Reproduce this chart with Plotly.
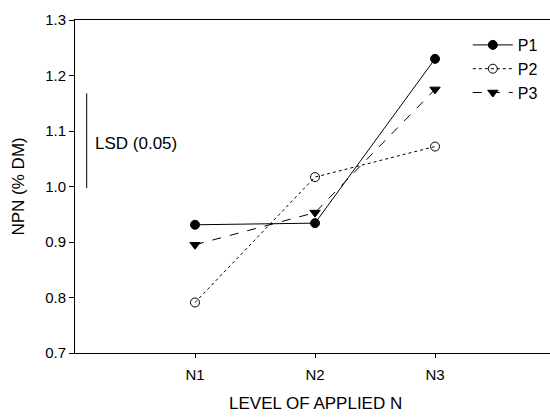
import plotly.graph_objects as go

categories = ["N1", "N2", "N3"]
p1 = [0.931, 0.934, 1.230]
p2 = [0.791, 1.017, 1.072]
p3 = [0.895, 0.953, 1.175]
y_ticks = [0.7, 0.8, 0.9, 1.0, 1.1, 1.2, 1.3]
lsd_low, lsd_high = 0.997, 1.168

xs = list(range(len(categories)))
FONT = "Liberation Sans, Arial, sans-serif"

fig = go.Figure()
series = [
    ("P1", p1, "solid", "circle", "black"),
    ("P2", p2, "dot", "circle-open", "black"),
    ("P3", p3, "dash", "triangle-down", "black"),
]
for name, vals, dash, sym, col in series:
    fig.add_trace(go.Scatter(
        x=xs, y=vals, name=name, mode="lines+markers",
        line=dict(color="black", width=1, dash=dash),
        marker=dict(symbol=sym, size=9, color=col,
                    line=dict(color="black", width=1)),
        legendgroup=name,
    ))

# LSD bar
fig.add_trace(go.Scatter(
    x=[-0.9025, -0.9025], y=[lsd_low, lsd_high], mode="lines",
    line=dict(color="black", width=1), showlegend=False, hoverinfo="skip"))
fig.add_annotation(x=-0.85, y=1.078, text="LSD (0.05)",
                   showarrow=False, xanchor="left", yanchor="middle",
                   font=dict(family=FONT, size=17, color="black"))
fig.add_annotation(x=1, xref="x", y=-0.152, yref="paper", text="LEVEL OF APPLIED N",
                   showarrow=False, xanchor="center", yanchor="middle",
                   font=dict(family=FONT, size=17, color="black"))
fig.add_annotation(x=-0.12, xref="paper", y=0.5, yref="paper", text="NPN (% DM)",
                   textangle=-90, showarrow=False, xanchor="center", yanchor="middle",
                   font=dict(family=FONT, size=17, color="black"))

fig.update_layout(
    width=550, height=418,
    margin=dict(l=75, r=0, t=20, b=65),
    paper_bgcolor="white", plot_bgcolor="white",
    font=dict(family=FONT, size=15, color="black"),
    legend=dict(x=0.827, y=0.976, xanchor="left", yanchor="top",
                bgcolor="rgba(0,0,0,0)", tracegroupgap=0,
                font=dict(family=FONT, size=16), itemwidth=40),
    showlegend=True,
)
fig.update_xaxes(
    range=[-1, 2.958], tickvals=xs, ticktext=categories,
    showgrid=False, zeroline=False, showline=True, linecolor="black", linewidth=1,
    mirror=True, ticks="outside", ticklen=4, tickcolor="black",
    tickfont=dict(family=FONT, size=15), ticklabelstandoff=4,
)
fig.update_yaxes(
    range=[0.7, 1.3], tickvals=y_ticks, tickformat=".1f",
    showgrid=False, zeroline=False, showline=True, linecolor="black", linewidth=1,
    ticks="outside", ticklen=5, tickcolor="black",
    tickfont=dict(family=FONT, size=15),
)

fig.write_html("out.html")
